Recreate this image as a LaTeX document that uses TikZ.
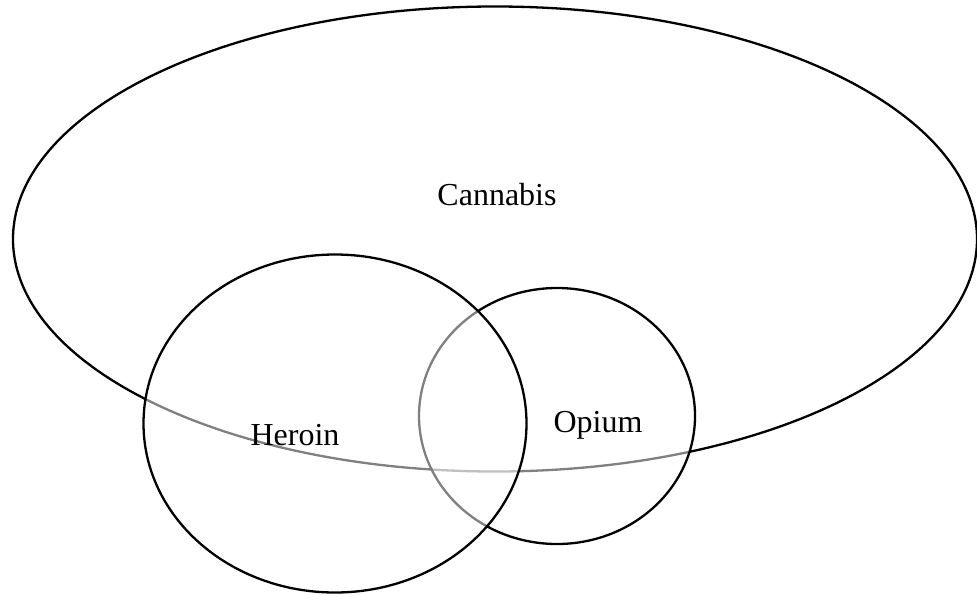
\documentclass[tikz,border=0pt]{standalone}
\usepackage{fontspec}
\setmainfont{Liberation Serif}
\usetikzlibrary{shapes.geometric}
\begin{document}
\begin{tikzpicture}[x=0.5pt,y=-0.5pt,
  setshape/.style={ellipse, draw=black, line width=1.15pt, fill=white, fill opacity=0.5, draw opacity=1, inner sep=0pt},
  setlabel/.style={font=\fontsize{16}{19}\selectfont, text=black, inner sep=0pt}]
\useasboundingbox (0,0) rectangle (977,594);
\node[setshape, minimum width=482pt, minimum height=232.5pt] (cannabis) at (495,239) {};
\node[setshape, minimum width=138pt, minimum height=128pt] (opium) at (557,416) {};
\node[setshape, minimum width=191.5pt, minimum height=169pt] (heroin) at (335,423.5) {};
\node[setlabel] (lc) at (497,195) {Cannabis};
\node[setlabel] (lh) at (295,435) {Heroin};
\node[setlabel] (lo) at (598,425) {Opium};
\end{tikzpicture}
\end{document}
